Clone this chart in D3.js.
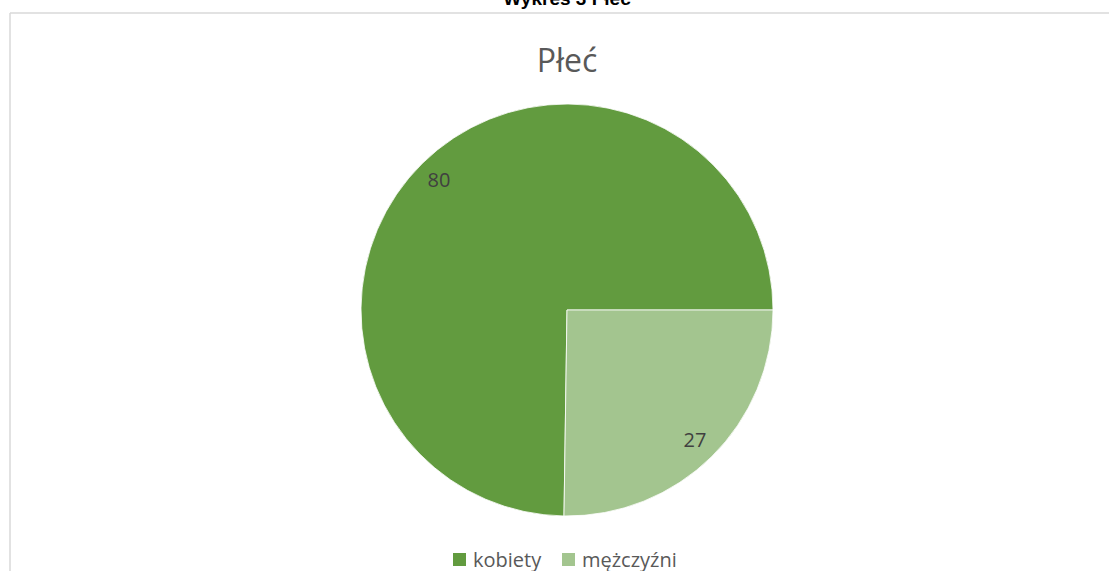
<!DOCTYPE html>
<html>
<head>
<meta charset="utf-8">
<script src="https://cdn.jsdelivr.net/npm/d3@7/dist/d3.min.js"></script>
<style>
  html, body { margin: 0; padding: 0; background: #fff; }
  svg { display: block; }
</style>
</head>
<body>
<svg id="chart" width="1109" height="571"></svg>
<script>
const categories = ["kobiety", "mężczyźni"];
const values = [80, 27];
const colors = ["#629b3f", "#a3c58f"];
const outerTitle = "Wykres 3 Płeć";
const chartTitle = "Płeć";

const W = 1109, H = 571;
const svg = d3.select("#chart");

// outer frame (top and left edges visible)
svg.append("line").attr("x1", 10).attr("y1", 13).attr("x2", W).attr("y2", 13)
  .attr("stroke", "#d9d9d9").attr("stroke-width", 1.5);
svg.append("line").attr("x1", 10).attr("y1", 13).attr("x2", 10).attr("y2", H)
  .attr("stroke", "#d9d9d9").attr("stroke-width", 1.5);

// outer caption (cut off at top)
svg.append("text").attr("x", 567).attr("y", 5)
  .attr("text-anchor", "middle")
  .attr("font-family", "'Liberation Sans', Arial, sans-serif")
  .attr("font-weight", "bold").attr("font-size", 19).attr("fill", "#000")
  .text(outerTitle);

// chart title
svg.append("text").attr("x", 567).attr("y", 72)
  .attr("text-anchor", "middle")
  .attr("font-family", "'Open Sans', sans-serif")
  .attr("font-size", 32).attr("fill", "#595959")
  .text(chartTitle);

const cx = 567, cy = 310, r = 206;
const total = d3.sum(values);
// rotate so that the boundary between slices sits at 3 o'clock
const start = Math.PI / 2 - (values[0] / total) * 2 * Math.PI;
const pie = d3.pie().sort(null).startAngle(start).endAngle(start + 2 * Math.PI);
const arcs = pie(values);
const arc = d3.arc().innerRadius(0).outerRadius(r);
const labelArc = d3.arc().innerRadius(r * 0.885).outerRadius(r * 0.885);

const g = svg.append("g").attr("transform", `translate(${cx},${cy})`);
g.selectAll("path").data(arcs).join("path")
  .attr("d", arc)
  .attr("fill", (d, i) => colors[i])
  .attr("stroke", "#fff").attr("stroke-width", 0.8);

g.selectAll("text.lbl").data(arcs).join("text")
  .attr("class", "lbl")
  .attr("transform", d => `translate(${labelArc.centroid(d)})`)
  .attr("text-anchor", "middle")
  .attr("dy", "0.35em")
  .attr("font-family", "'Open Sans', sans-serif")
  .attr("font-size", 20).attr("fill", "#404040")
  .text(d => d.data);

// legend
const legend = svg.append("g");
const legendX = [453, 562];
categories.forEach((c, i) => {
  legend.append("rect").attr("x", legendX[i]).attr("y", 553)
    .attr("width", 13).attr("height", 13).attr("fill", colors[i]);
  legend.append("text").attr("x", legendX[i] + 20).attr("y", 567)
    .attr("font-family", "'Open Sans', sans-serif")
    .attr("font-size", 20).attr("fill", "#595959")
    .text(c);
});
</script>
</body>
</html>
